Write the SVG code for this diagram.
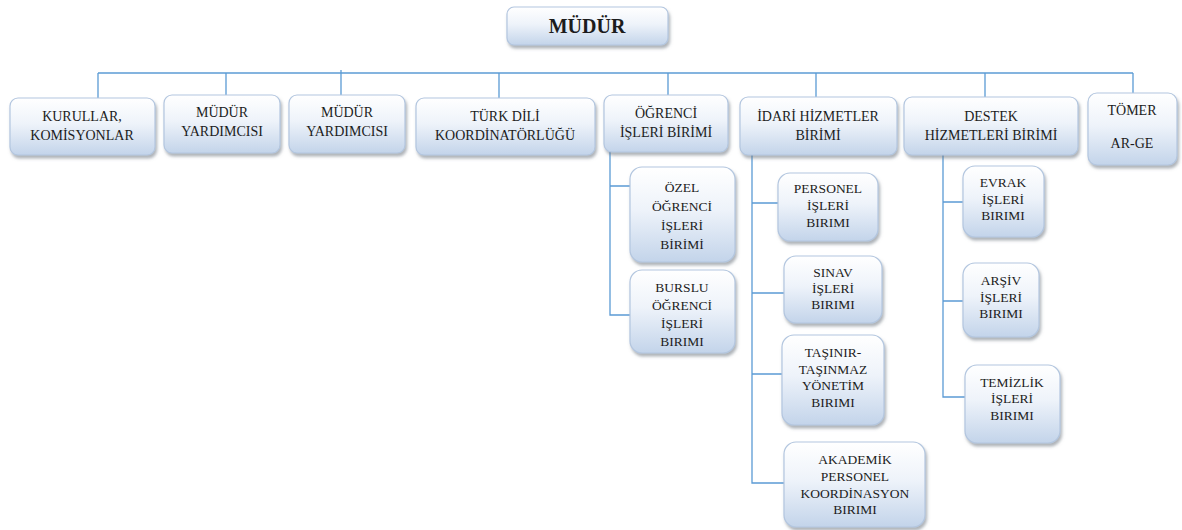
<svg xmlns="http://www.w3.org/2000/svg" width="1182" height="530" viewBox="0 0 1182 530">
<defs>
<linearGradient id="g" x1="0" y1="0" x2="0" y2="1">
<stop offset="0" stop-color="#ffffff"/>
<stop offset="0.45" stop-color="#eef3fa"/>
<stop offset="1" stop-color="#c3d4ea"/>
</linearGradient>
<filter id="sh" x="-10%" y="-10%" width="130%" height="140%">
<feDropShadow dx="1.5" dy="3" stdDeviation="1.6" flood-color="#6d7480" flood-opacity="0.55"/>
</filter>
</defs>
<style>
.box{fill:url(#g);stroke:#b3c6df;stroke-width:1.2;filter:url(#sh)}
text{font-family:'Liberation Serif','DejaVu Serif',serif;font-size:14px;fill:#1c1c1c;text-anchor:middle}
.s{font-size:13.5px}
.b{font-weight:bold;font-size:20px}
.c{stroke:#5b9bd5;stroke-width:1.3;fill:none}
</style>
<rect width="1182" height="530" fill="#ffffff"/>
<g id="connectors">
<path class="c" d="M98 73H1133"/>
<path class="c" d="M98 73V98M226 73V95M341 70V95M499 73V98M668 73V95M816 73V97M985 73V97M1133 73V93"/>
<path class="c" d="M610 152V315H630M610 186H630"/>
<path class="c" d="M752 155V483H784M752 203H778M752 293H784M752 374H782"/>
<path class="c" d="M943 155V397H965M943 202H963M943 301H963"/>
</g>
<g id="mudur" font-family="Liberation Serif, serif"><rect class="box" x="507" y="7" width="161" height="38" rx="7"/><text class="b" x="587" y="33">MÜDÜR</text></g>
<g id="kurullar"><rect class="box" x="10" y="98" width="145" height="57" rx="8"/><text x="82" y="121">KURULLAR,</text><text x="82" y="140">KOMİSYONLAR</text></g>
<g id="mudur-yardimcisi-1"><rect class="box" x="164" y="95" width="116" height="58" rx="8"/><text x="222" y="117">MÜDÜR</text><text x="222" y="136">YARDIMCISI</text></g>
<g id="mudur-yardimcisi-2"><rect class="box" x="289" y="95" width="116" height="58" rx="8"/><text x="347" y="117">MÜDÜR</text><text x="347" y="136">YARDIMCISI</text></g>
<g id="turk-dili"><rect class="box" x="416" y="98" width="179" height="57" rx="8"/><text x="505" y="121">TÜRK DİLİ</text><text x="505" y="140">KOORDİNATÖRLÜĞÜ</text></g>
<g id="ogrenci-isleri"><rect class="box" x="604" y="95" width="124" height="57" rx="8"/><text x="666" y="118">ÖĞRENCİ</text><text x="666" y="137">İŞLERİ BİRİMİ</text></g>
<g id="idari-hizmetler"><rect class="box" x="740" y="97" width="157" height="58" rx="8"/><text x="818" y="121">İDARİ HİZMETLER</text><text x="818" y="140">BİRİMİ</text></g>
<g id="destek-hizmetleri"><rect class="box" x="904" y="97" width="174" height="58" rx="8"/><text x="991" y="121">DESTEK</text><text x="991" y="140">HİZMETLERİ BİRİMİ</text></g>
<g id="tomer"><rect class="box" x="1088" y="93" width="89" height="72" rx="9"/><text x="1132" y="115">TÖMER</text><text x="1132" y="148">AR-GE</text></g>
<g id="ozel-ogrenci"><rect class="box" x="630" y="167" width="105" height="95" rx="12"/><text class="s" x="682" y="192">ÖZEL</text><text class="s" x="682" y="211">ÖĞRENCİ</text><text class="s" x="682" y="230">İŞLERİ</text><text class="s" x="682" y="249">BİRİMİ</text></g>
<g id="burslu-ogrenci"><rect class="box" x="630" y="270" width="105" height="83" rx="12"/><text class="s" x="682" y="292">BURSLU</text><text class="s" x="682" y="310">ÖĞRENCİ</text><text class="s" x="682" y="328">İŞLERİ</text><text class="s" x="682" y="346">BIRIMI</text></g>
<g id="personel-isleri"><rect class="box" x="778" y="173" width="100" height="68" rx="12"/><text class="s" x="828" y="193">PERSONEL</text><text class="s" x="828" y="210">İŞLERİ</text><text class="s" x="828" y="227">BIRIMI</text></g>
<g id="sinav-isleri"><rect class="box" x="784" y="256" width="98" height="67" rx="12"/><text class="s" x="833" y="277">SINAV</text><text class="s" x="833" y="293">İŞLERİ</text><text class="s" x="833" y="309">BIRIMI</text></g>
<g id="tasinir"><rect class="box" x="782" y="335" width="102" height="90" rx="12"/><text class="s" x="833" y="357">TAŞINIR-</text><text class="s" x="833" y="374">TAŞINMAZ</text><text class="s" x="833" y="390">YÖNETİM</text><text class="s" x="833" y="407">BIRIMI</text></g>
<g id="akademik-personel"><rect class="box" x="784" y="442" width="141" height="85" rx="12"/><text class="s" x="855" y="464">AKADEMİK</text><text class="s" x="855" y="481">PERSONEL</text><text class="s" x="855" y="498">KOORDİNASYON</text><text class="s" x="855" y="514">BIRIMI</text></g>
<g id="evrak-isleri"><rect class="box" x="963" y="166" width="81" height="71" rx="12"/><text class="s" x="1003" y="187">EVRAK</text><text class="s" x="1003" y="204">İŞLERİ</text><text class="s" x="1003" y="220">BIRIMI</text></g>
<g id="arsiv-isleri"><rect class="box" x="963" y="263" width="76" height="74" rx="12"/><text class="s" x="1001" y="285">ARŞİV</text><text class="s" x="1001" y="302">İŞLERİ</text><text class="s" x="1001" y="318">BIRIMI</text></g>
<g id="temizlik-isleri"><rect class="box" x="965" y="365" width="95" height="78" rx="12"/><text class="s" x="1012" y="387">TEMİZLİK</text><text class="s" x="1012" y="403">İŞLERİ</text><text class="s" x="1012" y="420">BIRIMI</text></g>
</svg>
